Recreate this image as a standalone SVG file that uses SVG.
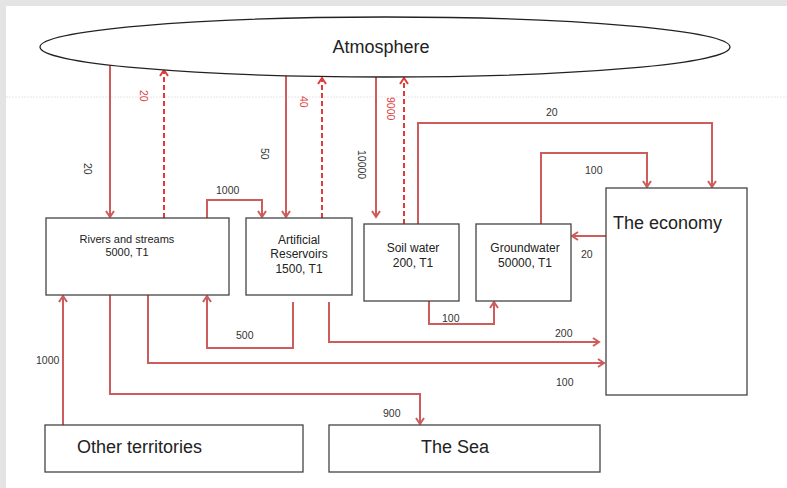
<svg xmlns="http://www.w3.org/2000/svg" width="787" height="488" viewBox="0 0 787 488">
<style>
.box{fill:#fff;stroke:#444;stroke-width:1.3}
.t{font-family:"Liberation Sans",Arial,sans-serif;fill:#222}
.big{font-size:18px}
.mid{font-size:12px;text-anchor:middle}
.sm{font-size:11px;text-anchor:middle}
.lbl{font-family:"Liberation Sans",Arial,sans-serif;font-size:10.5px;fill:#333}
.rl{fill:#e04040}
.c{fill:none;stroke:#cd5c5c;stroke-width:2}
.d{fill:none;stroke:#e03a3a;stroke-width:2;stroke-dasharray:5,3}
</style>
<defs>
<marker id="a" markerWidth="10" markerHeight="10" refX="8" refY="5" orient="auto" markerUnits="userSpaceOnUse">
<path d="M2,1 L8,5 L2,9" fill="none" stroke="#cd5c5c" stroke-width="2"/>
</marker>
<marker id="ar" markerWidth="10" markerHeight="10" refX="8" refY="5" orient="auto" markerUnits="userSpaceOnUse">
<path d="M2,1 L8,5 L2,9" fill="none" stroke="#e03a3a" stroke-width="2"/>
</marker>
</defs>
<rect x="0" y="0" width="787" height="488" fill="#fff"/>
<rect x="0" y="0" width="787" height="6" fill="#e4e4e4"/>
<rect x="0" y="0" width="6" height="488" fill="#e4e4e4"/>
<line x1="6" y1="97" x2="787" y2="97" stroke="#e6e6e6" stroke-width="1" stroke-dasharray="2,1"/>

<g id="connectors">
<line class="c" x1="110" y1="62" x2="110" y2="217" marker-end="url(#a)"/>
<line class="d" x1="164" y1="218" x2="164" y2="70" marker-end="url(#ar)"/>
<polyline class="c" points="207,218 207,200 262,200 262,217" marker-end="url(#a)"/>
<line class="c" x1="286" y1="75" x2="286" y2="217" marker-end="url(#a)"/>
<line class="d" x1="322" y1="218" x2="322" y2="78" marker-end="url(#ar)"/>
<line class="c" x1="376" y1="77" x2="376" y2="217" marker-end="url(#a)"/>
<line class="d" x1="404" y1="224" x2="404" y2="78" marker-end="url(#ar)"/>
<polyline class="c" points="418,224 418,123 712,123 712,187" marker-end="url(#a)"/>
<polyline class="c" points="541,224 541,153 647,153 647,187" marker-end="url(#a)"/>
<line class="c" x1="606" y1="236" x2="572" y2="236" marker-end="url(#a)"/>
<polyline class="c" points="429,301 429,324 494,324 494,302" marker-end="url(#a)"/>
<polyline class="c" points="293,302 293,348 207,348 207,296" marker-end="url(#a)"/>
<polyline class="c" points="329,302 329,342 599,342" marker-end="url(#a)"/>
<polyline class="c" points="148,295 148,363 604,363" marker-end="url(#a)"/>
<polyline class="c" points="110,295 110,394 420,394 420,424" marker-end="url(#a)"/>
<line class="c" x1="63" y1="425" x2="63" y2="296" marker-end="url(#a)"/>

<text class="lbl" transform="translate(84,163) rotate(90)">20</text>
<text class="lbl rl" transform="translate(140,90) rotate(90)">20</text>
<text class="lbl" transform="translate(261,148) rotate(90)">50</text>
<text class="lbl rl" transform="translate(300,96) rotate(90)">40</text>
<text class="lbl" transform="translate(358,150) rotate(90)">10000</text>
<text class="lbl rl" transform="translate(387,97) rotate(90)">9000</text>
<text class="lbl" x="216" y="194">1000</text>
<text class="lbl" x="546" y="116">20</text>
<text class="lbl" x="585" y="174">100</text>
<text class="lbl" x="581" y="258">20</text>
<text class="lbl" x="442" y="322">100</text>
<text class="lbl" x="236" y="339">500</text>
<text class="lbl" x="555" y="337">200</text>
<text class="lbl" x="556" y="386">100</text>
<text class="lbl" x="383" y="417">900</text>
<text class="lbl" x="36" y="364">1000</text>
</g>

<g id="atmosphere">
<ellipse cx="385" cy="47" rx="345" ry="30" fill="#fff" stroke="#222" stroke-width="1.3"/>
<text class="t big" x="381" y="53" text-anchor="middle">Atmosphere</text>
</g>
<g id="rivers">
<rect class="box" x="46" y="218" width="183" height="77"/>
<text class="t sm" x="127" y="243">Rivers and streams</text>
<text class="t sm" x="127" y="256">5000, T1</text>
</g>
<g id="reservoirs">
<rect class="box" x="246" y="218" width="106" height="77"/>
<text class="t mid" x="299" y="244">Artificial</text>
<text class="t mid" x="299" y="258">Reservoirs</text>
<text class="t mid" x="299" y="273">1500, T1</text>
</g>
<g id="soil">
<rect class="box" x="364" y="224" width="95" height="77"/>
<text class="t mid" x="413" y="252">Soil water</text>
<text class="t mid" x="413" y="267">200, T1</text>
</g>
<g id="groundwater">
<rect class="box" x="476" y="224" width="95" height="77"/>
<text class="t mid" x="525" y="252">Groundwater</text>
<text class="t mid" x="525" y="267">50000, T1</text>
</g>
<g id="economy">
<rect class="box" x="606" y="188" width="141" height="207"/>
<text class="t big" x="613" y="229">The economy</text>
</g>
<g id="other">
<rect class="box" x="45" y="425" width="258" height="47"/>
<text class="t big" x="77" y="453">Other territories</text>
</g>
<g id="sea">
<rect class="box" x="329" y="425" width="271" height="47"/>
<text class="t big" x="455" y="453" text-anchor="middle">The Sea</text>
</g>
</svg>
